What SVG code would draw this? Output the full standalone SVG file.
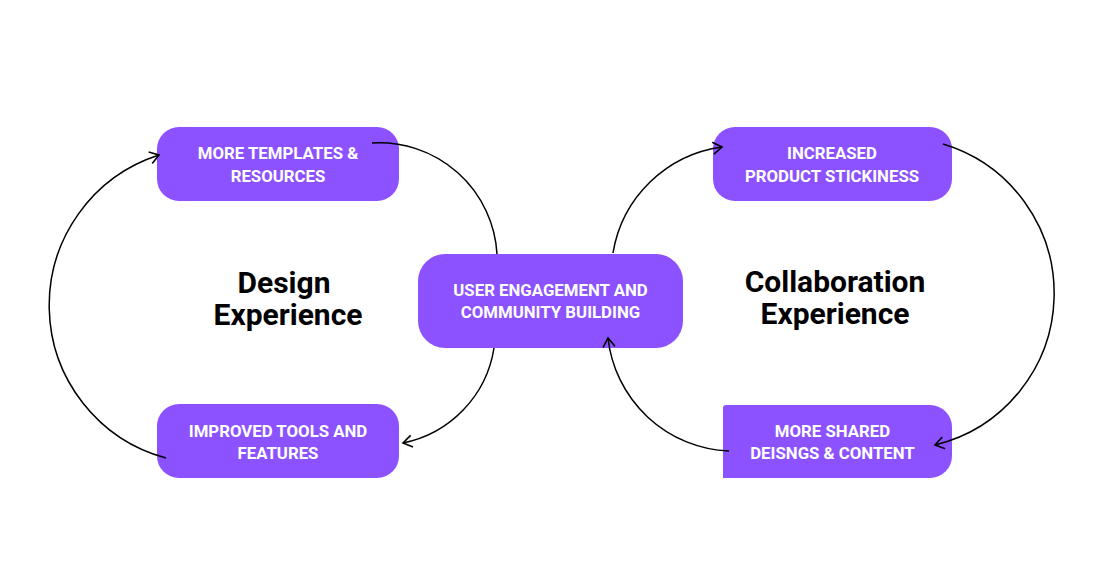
<svg xmlns="http://www.w3.org/2000/svg" width="1118" height="578" viewBox="0 0 1118 578">
<style>
.box{fill:#8c52ff}
.lbl{font-family:Roboto,"Liberation Sans",sans-serif;font-weight:700;font-size:16.8px;fill:#ffffff;text-anchor:middle}
.title{font-family:Roboto,"Liberation Sans",sans-serif;font-weight:700;font-size:30px;fill:#000000;text-anchor:middle}
.con{fill:none;stroke:#000000;stroke-width:1.5}
</style>
<defs>
<marker id="arr" markerUnits="userSpaceOnUse" viewBox="0 0 20 20" markerWidth="20" markerHeight="20" refX="10" refY="10" orient="auto" overflow="visible">
<path d="M1,4 L10,10 L1,16" fill="none" stroke="#000000" stroke-width="1.6"/>
</marker>
</defs>
<rect width="1118" height="578" fill="#ffffff"/>
<g id="node-templates">
<rect class="box" x="157" y="127" width="242" height="74" rx="22"/>
<text class="lbl" x="278" y="159">MORE TEMPLATES &amp;</text>
<text class="lbl" x="278" y="182">RESOURCES</text>
</g>
<g id="node-stickiness">
<rect class="box" x="713" y="127" width="239" height="74" rx="22"/>
<text class="lbl" x="832" y="159">INCREASED</text>
<text class="lbl" x="832" y="182">PRODUCT STICKINESS</text>
</g>
<g id="node-engagement">
<rect class="box" x="418" y="254" width="265" height="94" rx="27"/>
<text class="lbl" x="550.5" y="296">USER ENGAGEMENT AND</text>
<text class="lbl" x="550.5" y="318">COMMUNITY BUILDING</text>
</g>
<g id="node-tools">
<rect class="box" x="157" y="404" width="242" height="74" rx="22"/>
<text class="lbl" x="278" y="437">IMPROVED TOOLS AND</text>
<text class="lbl" x="278" y="459">FEATURES</text>
</g>
<g id="node-shared">
<path class="box" d="M726,405 H930 A22,22 0 0 1 952,427 V456 A22,22 0 0 1 930,478 H723 V408 A3,3 0 0 1 726,405 Z"/>
<text class="lbl" x="832.5" y="437">MORE SHARED</text>
<text class="lbl" x="832.5" y="459">DEISNGS &amp; CONTENT</text>
</g>
<g id="title-design">
<text class="title"><tspan x="284" y="293">Design</tspan><tspan x="288" y="325">Experience</tspan></text>
</g>
<g id="title-collab">
<text class="title"><tspan x="835" y="292">Collaboration</tspan><tspan x="835" y="324">Experience</tspan></text>
</g>
<g id="connectors">
<path class="con" d="M166,458 A158,158 0 0 1 159,155" marker-end="url(#arr)"/>
<path class="con" d="M372,143 A118,118 0 0 1 497,254"/>
<path class="con" d="M494,348 A115,115 0 0 1 403,443" marker-end="url(#arr)"/>
<path class="con" d="M613,253 A128,128 0 0 1 722,147" marker-end="url(#arr)"/>
<path class="con" d="M943,144 A156,156 0 0 1 935,445" marker-end="url(#arr)"/>
<path class="con" d="M729,451 A127,127 0 0 1 608,338" marker-end="url(#arr)"/>
</g>
</svg>
